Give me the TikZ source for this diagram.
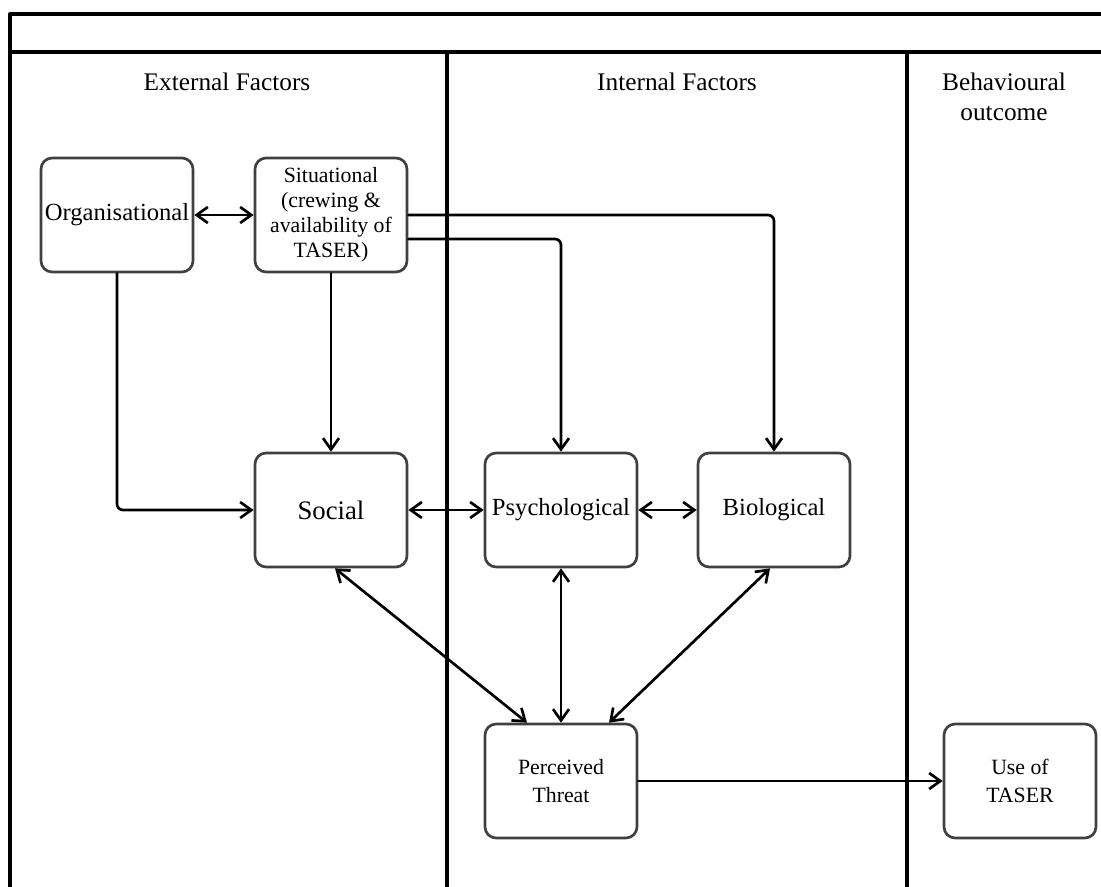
\documentclass[tikz,border=0pt]{standalone}
\usepackage{fontspec}
\setmainfont{Liberation Serif}
\usetikzlibrary{arrows.meta}
\begin{document}
\begin{tikzpicture}[x=0.025cm, y=-0.025cm, line join=round, line cap=round,
  >={Straight Barb[length=2.8mm,width=4mm]},
  box/.style={draw=black!75, line width=1.9pt, rounded corners=0.28cm,
    minimum width=3.8cm, minimum height=2.85cm, align=center, inner sep=1pt,
    font=\fontsize{17.5}{21}\selectfont},
  small/.style={font=\fontsize{15.5}{20}\selectfont},
  link/.style={<->, line width=1.9pt, rounded corners=0.15cm},
  lane/.style={line width=2.3pt},
  head/.style={align=center, font=\fontsize{18}{21.5}\selectfont}]
\useasboundingbox (0,0) rectangle (1101,887);
\draw[lane] (10,887)--(10,14)--(1101,14);
\draw[lane] (10,52)--(1101,52);
\draw[lane] (447,52)--(447,887);
\draw[lane] (907,52)--(907,887);
\node[head] (ext) at (227,82) {External Factors};
\node[head] (int) at (677,82) {Internal Factors};
\node[head] (beh) at (1004,97) {Behavioural\\outcome};
\node[box] (org) at (117,215) {Organisational};
\node[box, font=\fontsize{15.5}{17.8}\selectfont] (sit) at (331,215)
  {Situational\\(crewing \&\\availability of\\TASER)};
\node[box, font=\fontsize{19}{22}\selectfont] (soc) at (331,510) {Social};
\node[box] (psy) at (561,510) {Psychological};
\node[box] (bio) at (774,510) {Biological};
\node[box, small] (pt) at (561,781) {Perceived\\Threat};
\node[box, small] (use) at (1020,781) {Use of\\TASER};
\draw[link] (org)--(sit);
\draw[link,->] (org) |- (soc);
\draw[link,->] (sit)--(soc);
\draw[link,->] (sit.east) -| (bio);
\draw[link,->] ([yshift=-0.6cm]sit.east) -| (psy);
\draw[link] (soc)--(psy);
\draw[link] (psy)--(bio);
\draw[link] ([xshift=0.1cm]soc.south)--([xshift=-0.85cm]pt.north);
\draw[link] (psy)--(pt);
\draw[link] ([xshift=-0.1cm]bio.south)--([xshift=1.2cm]pt.north);
\draw[link,->] (pt)--(use);
\end{tikzpicture}
\end{document}
